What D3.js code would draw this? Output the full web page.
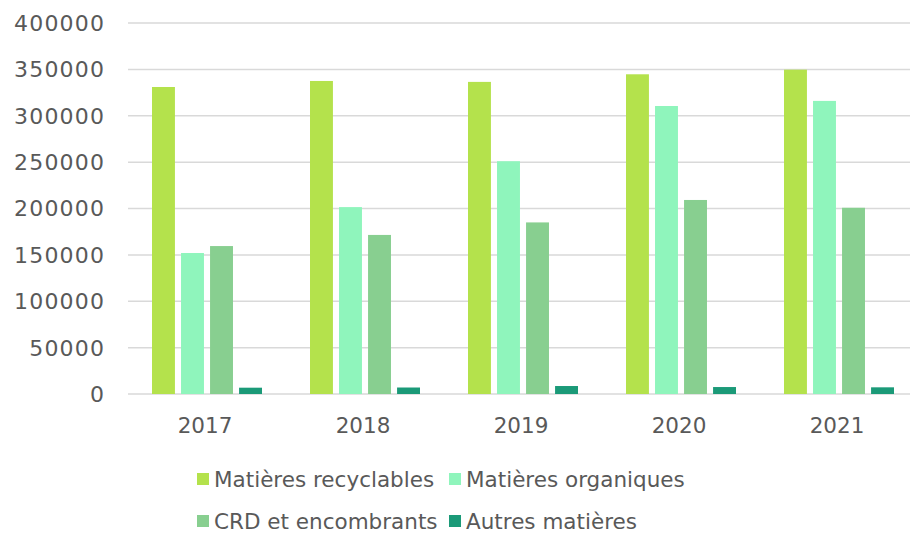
<!DOCTYPE html>
<html>
<head>
<meta charset="utf-8">
<script src="https://cdn.jsdelivr.net/npm/d3@7"></script>
<style>
  body { margin: 0; background: #fff; }
  svg text { font-family: "DejaVu Sans", sans-serif; fill: #595959; }
</style>
</head>
<body>
<svg id="chart" width="910" height="533"></svg>
<script>
const years = ["2017", "2018", "2019", "2020", "2021"];
const seriesNames = ["Matières recyclables", "Matières organiques", "CRD et encombrants", "Autres matières"];
const recyclables = [331000, 337500, 336500, 344700, 349700];
const organiques = [152000, 201500, 251000, 310500, 316000];
const crd = [159500, 171500, 185000, 209200, 200800];
const autres = [6800, 7000, 8600, 7500, 7200];
const yTicks = [0, 50000, 100000, 150000, 200000, 250000, 300000, 350000, 400000];
const colors = ["#b4e24c", "#8ff5bc", "#88cf90", "#1b9a78"];

const allSeries = [recyclables, organiques, crd, autres];
const svg = d3.select("#chart");

const x = d3.scaleBand().domain(years).range([128, 918]).paddingInner(0).paddingOuter(0);
const xi = d3.scaleBand().domain(seriesNames).range([24, 134]).paddingInner(0.21);
const y = d3.scaleLinear().domain([0, 400000]).range([394, 23]);

// gridlines
svg.append("g")
  .selectAll("line")
  .data(yTicks)
  .enter()
  .append("line")
  .attr("x1", 128)
  .attr("x2", 910)
  .attr("y1", (d) => y(d))
  .attr("y2", (d) => y(d))
  .attr("stroke", "#d9d9d9")
  .attr("stroke-width", 1.5);

// y labels
const ls = 1.2;
svg.append("g")
  .selectAll("text")
  .data(yTicks)
  .enter()
  .append("text")
  .attr("x", 104 + ls)
  .attr("y", (d) => y(d))
  .attr("dy", "0.36em")
  .attr("text-anchor", "end")
  .attr("font-size", 22)
  .attr("letter-spacing", ls)
  .text((d) => d);

// bars
const groups = svg.append("g")
  .selectAll("g")
  .data(years)
  .enter()
  .append("g")
  .attr("transform", (d) => `translate(${x(d)},0)`);

groups.selectAll("rect")
  .data((d, i) => seriesNames.map((s, j) => ({ s: s, v: allSeries[j][i], c: colors[j] })))
  .enter()
  .append("rect")
  .attr("x", (d) => xi(d.s))
  .attr("width", xi.bandwidth())
  .attr("y", (d) => y(d.v))
  .attr("height", (d) => y(0) - y(d.v))
  .attr("fill", (d) => d.c);

// x labels
svg.append("g")
  .selectAll("text")
  .data(years)
  .enter()
  .append("text")
  .attr("x", (d) => x(d) + x.bandwidth() / 2 - 2)
  .attr("y", 425)
  .attr("dy", "0.36em")
  .attr("text-anchor", "middle")
  .attr("font-size", 21.5)
  .text((d) => d);

// legend
const legendPos = [[197, 479], [449, 479], [197, 521], [449, 521]];
const legend = svg.append("g")
  .selectAll("g")
  .data(seriesNames)
  .enter()
  .append("g")
  .attr("transform", (d, i) => `translate(${legendPos[i][0]},${legendPos[i][1]})`);

legend.append("rect")
  .attr("x", 0)
  .attr("y", -6)
  .attr("width", 12)
  .attr("height", 12)
  .attr("fill", (d, i) => colors[i]);

legend.append("text")
  .attr("x", 17)
  .attr("y", 0)
  .attr("dy", "0.36em")
  .attr("font-size", 21.5)
  .text((d) => d);
</script>
</body>
</html>
